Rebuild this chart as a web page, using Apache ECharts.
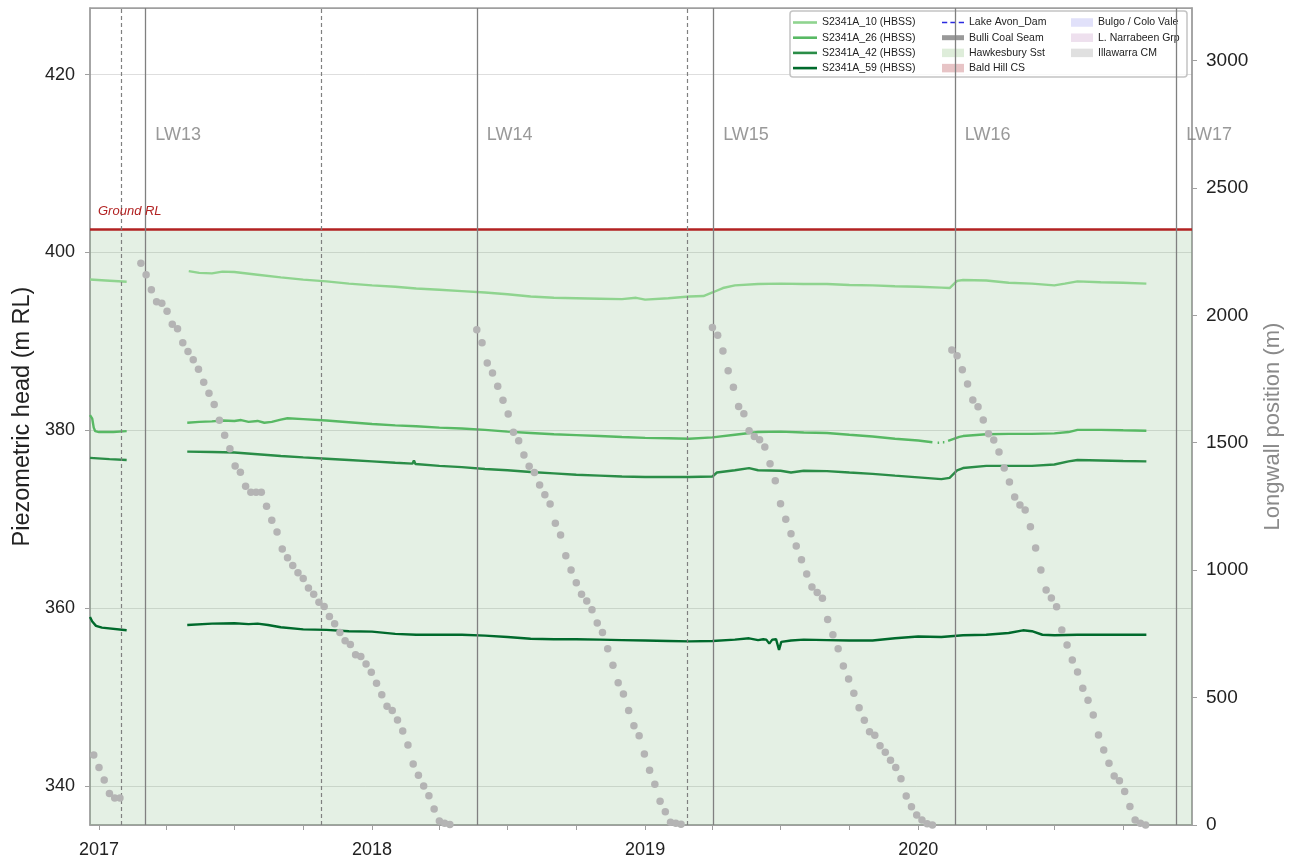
<!DOCTYPE html>
<html>
<head>
<meta charset="utf-8">
<title>S2341A piezometric head and longwall position</title>
<script src="https://cdn.jsdelivr.net/npm/echarts@6/dist/echarts.min.js"></script>
<style>
  html, body { margin: 0; padding: 0; background: #ffffff; }
  #chart { width: 1299px; height: 861px; }
</style>
</head>
<body>
<div id="chart"></div>
<script>
// ---- Axis extents and reference levels ----
const X_MIN = '2016-12-20';
const X_MAX = '2021-01-01';
const HEAD_MIN = 335.6;
const HEAD_MAX = 427.5;
const POS_MAX = 3206;
const GROUND_RL = 402.6;
const LW_LABEL_LEVEL = 413.25;

// Longwall start markers (solid) and other events (dashed)
const LW_NAMES = ['LW13', 'LW14', 'LW15', 'LW16', 'LW17'];
const LW_START_DATES = ['2017-03-04', '2018-05-21', '2019-04-02', '2020-02-19', '2020-12-11'];
const EVENT_DATES = ['2017-01-31', '2017-10-25', '2019-02-26'];

// ---- Piezometer heads (m RL); null marks a logger gap ----
const S2341A_10 = [
  ['2016-12-20', 396.96], ['2017-01-10', 396.85], ['2017-02-07', 396.7],
  ['2017-03-15', null],
  ['2017-05-01', 397.9], ['2017-05-15', 397.7], ['2017-06-01', 397.65], ['2017-06-15', 397.85],
  ['2017-07-01', 397.8], ['2017-08-01', 397.5], ['2017-09-01', 397.2], ['2017-10-01', 396.95],
  ['2017-11-01', 396.75], ['2017-12-01', 396.5], ['2018-01-01', 396.3], ['2018-02-01', 396.15],
  ['2018-03-01', 395.95], ['2018-04-01', 395.8], ['2018-05-01', 395.65], ['2018-06-01', 395.5],
  ['2018-07-01', 395.3], ['2018-08-01', 395.05], ['2018-09-01', 394.9], ['2018-10-01', 394.85],
  ['2018-11-01', 394.8], ['2018-12-01', 394.75], ['2018-12-20', 394.9], ['2019-01-01', 394.7],
  ['2019-02-01', 394.85], ['2019-03-01', 395.05], ['2019-03-20', 395.1], ['2019-04-01', 395.5],
  ['2019-04-15', 396.0], ['2019-05-01', 396.3], ['2019-06-01', 396.45], ['2019-07-01', 396.5],
  ['2019-08-01', 396.45], ['2019-09-01', 396.45], ['2019-10-01', 396.35], ['2019-11-01', 396.3],
  ['2019-12-01', 396.2], ['2020-01-01', 396.15], ['2020-02-01', 396.05], ['2020-02-12', 396.0],
  ['2020-02-22', 396.8], ['2020-03-01', 396.9], ['2020-04-01', 396.85], ['2020-05-01', 396.6],
  ['2020-06-01', 396.5], ['2020-07-01', 396.3], ['2020-07-15', 396.5], ['2020-08-01', 396.75],
  ['2020-09-01', 396.65], ['2020-10-01', 396.6], ['2020-11-01', 396.5]
];

const S2341A_26 = [
  ['2016-12-20', 381.7], ['2016-12-23', 381.3], ['2016-12-25', 380.3], ['2016-12-27', 379.9],
  ['2016-12-29', 380.0], ['2017-01-01', 379.8], ['2017-01-20', 379.8], ['2017-02-07', 379.9],
  ['2017-03-15', null],
  ['2017-04-29', 380.85], ['2017-05-15', 380.95], ['2017-06-01', 381.0], ['2017-06-15', 381.1],
  ['2017-07-01', 381.05], ['2017-07-10', 381.15], ['2017-07-20', 380.95], ['2017-08-01', 381.05],
  ['2017-08-10', 380.85], ['2017-08-20', 380.95], ['2017-09-01', 381.2], ['2017-09-10', 381.35],
  ['2017-10-01', 381.25], ['2017-11-01', 381.1], ['2017-12-01', 380.9], ['2018-01-01', 380.7],
  ['2018-02-01', 380.55], ['2018-03-01', 380.45], ['2018-04-01', 380.3], ['2018-05-01', 380.2],
  ['2018-06-01', 380.05], ['2018-07-01', 379.85], ['2018-08-01', 379.7], ['2018-09-01', 379.55],
  ['2018-10-01', 379.45], ['2018-11-01', 379.35], ['2018-12-01', 379.25], ['2019-01-01', 379.15],
  ['2019-02-01', 379.1], ['2019-03-01', 379.05], ['2019-04-01', 379.2], ['2019-05-01', 379.5],
  ['2019-06-01', 379.8], ['2019-07-01', 379.85], ['2019-08-01', 379.75], ['2019-09-01', 379.7],
  ['2019-10-01', 379.5], ['2019-11-01', 379.3], ['2019-12-01', 379.05], ['2020-01-01', 378.85],
  ['2020-01-20', 378.65],
  ['2020-01-24', null], ['2020-01-27', 378.6], ['2020-01-29', 378.6],
  ['2020-01-31', null], ['2020-02-03', 378.65], ['2020-02-05', 378.65],
  ['2020-02-07', null],
  ['2020-02-10', 378.8], ['2020-02-25', 379.25], ['2020-03-01', 379.35], ['2020-04-01', 379.55],
  ['2020-05-01', 379.6], ['2020-06-01', 379.6], ['2020-07-01', 379.65], ['2020-07-20', 379.8],
  ['2020-08-01', 380.05], ['2020-09-01', 380.05], ['2020-10-01', 380.0], ['2020-11-01', 379.95]
];

const S2341A_42 = [
  ['2016-12-20', 376.9], ['2017-01-15', 376.75], ['2017-02-07', 376.65],
  ['2017-03-15', null],
  ['2017-04-29', 377.6], ['2017-06-01', 377.55], ['2017-07-01', 377.5], ['2017-08-01', 377.3],
  ['2017-09-01', 377.1], ['2017-10-01', 376.95], ['2017-11-01', 376.8], ['2017-12-01', 376.65],
  ['2018-01-01', 376.5], ['2018-02-01', 376.35], ['2018-02-24', 376.25], ['2018-02-26', 376.6],
  ['2018-02-28', 376.2], ['2018-04-01', 376.0], ['2018-05-01', 375.85], ['2018-06-01', 375.65],
  ['2018-07-01', 375.5], ['2018-08-01', 375.3], ['2018-09-01', 375.15], ['2018-10-01', 375.0],
  ['2018-11-01', 374.9], ['2018-12-01', 374.8], ['2019-01-01', 374.75], ['2019-02-01', 374.75],
  ['2019-03-01', 374.75], ['2019-04-01', 374.8], ['2019-04-07', 375.25], ['2019-05-01', 375.5],
  ['2019-05-20', 375.75], ['2019-06-01', 375.5], ['2019-07-01', 375.45], ['2019-07-15', 375.25],
  ['2019-08-01', 375.45], ['2019-09-01', 375.4], ['2019-10-01', 375.25], ['2019-11-01', 375.1],
  ['2019-12-01', 374.9], ['2020-01-01', 374.7], ['2020-02-01', 374.5], ['2020-02-12', 374.65],
  ['2020-02-22', 375.5], ['2020-03-01', 375.75], ['2020-04-01', 376.0], ['2020-05-01', 376.0],
  ['2020-06-01', 376.0], ['2020-07-01', 376.15], ['2020-07-20', 376.5], ['2020-08-01', 376.65],
  ['2020-09-01', 376.6], ['2020-10-01', 376.55], ['2020-11-01', 376.5]
];

const S2341A_59 = [
  ['2016-12-20', 359.0], ['2016-12-23', 358.5], ['2016-12-28', 358.0], ['2017-01-05', 357.8],
  ['2017-02-07', 357.5],
  ['2017-03-15', null],
  ['2017-04-29', 358.1], ['2017-06-01', 358.25], ['2017-07-01', 358.3], ['2017-07-20', 358.2],
  ['2017-08-01', 358.25], ['2017-08-15', 358.1], ['2017-09-01', 357.85], ['2017-10-01', 357.6],
  ['2017-11-01', 357.55], ['2017-12-01', 357.4], ['2018-01-01', 357.35], ['2018-02-01', 357.1],
  ['2018-03-01', 357.0], ['2018-04-01', 357.0], ['2018-05-01', 357.0], ['2018-06-01', 356.9],
  ['2018-07-01', 356.75], ['2018-08-01', 356.55], ['2018-09-01', 356.5], ['2018-10-01', 356.5],
  ['2018-11-01', 356.45], ['2018-12-01', 356.4], ['2019-01-01', 356.35], ['2019-02-01', 356.3],
  ['2019-03-01', 356.25], ['2019-04-01', 356.3], ['2019-05-01', 356.45], ['2019-05-20', 356.6],
  ['2019-06-01', 356.4], ['2019-06-08', 356.5], ['2019-06-12', 356.45], ['2019-06-16', 356.0],
  ['2019-06-20', 356.45], ['2019-06-25', 356.5], ['2019-06-29', 355.3], ['2019-07-02', 356.2],
  ['2019-07-15', 356.35], ['2019-08-01', 356.45], ['2019-09-01', 356.4], ['2019-10-01', 356.35],
  ['2019-11-01', 356.35], ['2019-12-01', 356.6], ['2020-01-01', 356.8], ['2020-02-01', 356.75],
  ['2020-03-01', 356.95], ['2020-04-01', 357.0], ['2020-05-01', 357.2], ['2020-05-20', 357.5],
  ['2020-06-01', 357.4], ['2020-06-15', 357.0], ['2020-07-01', 356.95], ['2020-08-01', 357.0],
  ['2020-09-01', 357.0], ['2020-10-01', 357.0], ['2020-11-01', 357.0]
];

// ---- Weekly longwall face positions (m), first survey date of each panel ----
const LW12_START = '2016-12-18';
const LW12_POS = [318, 275, 226, 177, 124, 106, 106];
const LW13_START = '2017-02-26';
const LW13_POS = [2204, 2159, 2100, 2053, 2047, 2016, 1965, 1947, 1892, 1858,
  1826, 1788, 1737, 1694, 1650, 1588, 1529, 1476, 1409, 1384,
  1329, 1306, 1306, 1306, 1251, 1196, 1150, 1083, 1049, 1018,
  990, 967, 930, 905, 874, 857, 818, 790, 755, 723,
  708, 668, 661, 632, 599, 556, 511, 466, 449, 412,
  369, 314, 239, 195, 153, 115, 63, 16, 7, 2];
const LW14_START = '2018-05-21';
const LW14_POS = [1943, 1892, 1813, 1774, 1722, 1667, 1613, 1541, 1508, 1452,
  1408, 1383, 1334, 1296, 1260, 1184, 1138, 1057, 1001, 951,
  905, 879, 845, 793, 755, 692, 627, 558, 514, 449,
  389, 350, 279, 215, 160, 93, 52, 11, 7, 3];
const LW15_START = '2019-04-01';
const LW15_POS = [1952, 1922, 1860, 1783, 1718, 1642, 1614, 1547, 1525, 1512,
  1483, 1418, 1351, 1261, 1200, 1143, 1095, 1041, 985, 934,
  912, 890, 806, 747, 692, 624, 573, 517, 460, 411,
  366, 352, 311, 285, 254, 226, 181, 114, 72, 39,
  20, 5, 0];
const LW16_START = '2020-02-15';
const LW16_POS = [1864, 1841, 1786, 1731, 1668, 1641, 1589, 1535, 1511, 1464,
  1401, 1346, 1287, 1256, 1236, 1170, 1087, 1001, 922, 891,
  856, 765, 706, 647, 600, 537, 490, 432, 353, 294,
  242, 192, 174, 131, 73, 20, 7, 0];

// ---- Colours ----
const C10 = '#8fd48f';
const C26 = '#58b964';
const C42 = '#2a8d47';
const C59 = '#006a2c';
const DOT = '#b4b4b4';
const FIRE = '#b22222';
const MARK = '#808080';

function ts(s) {
  const p = s.split('-').map(Number);
  return new Date(p[0], p[1] - 1, p[2]).getTime();
}
// Survey points are weekly from the panel's first survey
function weekly(start, values) {
  const p = start.split('-').map(Number);
  return values.map((v, i) => [new Date(p[0], p[1] - 1, p[2] + 7 * i).getTime(), v]);
}

const dots = [].concat(
  weekly(LW12_START, LW12_POS),
  weekly(LW13_START, LW13_POS),
  weekly(LW14_START, LW14_POS),
  weekly(LW15_START, LW15_POS),
  weekly(LW16_START, LW16_POS)
);

const FONT = 'Liberation Sans, Arial, sans-serif';

function headLine(name, data, color) {
  return {
    name, type: 'line', data, yAxisIndex: 0,
    showSymbol: false, connectNulls: false, color,
    lineStyle: { color, width: 2.4 }, z: 4
  };
}
function legendOnly(name, color, extra) {
  return Object.assign({ name, type: 'line', data: [], color, showSymbol: false }, extra || {});
}

const LINE_ICON = 'path://M0,0h24v2.6h-24z';
const DASH_ICON = 'path://M0,0h5v1.6h-5zM8,0h5v1.6h-5zM16,0h5v1.6h-5z';
const THICK_ICON = 'path://M0,0h22v5h-22z';
const PATCH_ICON = 'path://M0,0h22v8.5h-22z';

function li(name, icon, color) {
  return { name, icon, itemStyle: { color, borderWidth: 0 } };
}

const legendBase = {
  orient: 'vertical', top: 17, itemHeight: 12, itemGap: 4.2, padding: 0,
  selectedMode: false,
  textStyle: { fontSize: 10.5, color: '#222', fontFamily: FONT }
};

const chart = echarts.init(document.getElementById('chart'), null, { renderer: 'canvas' });

const option = {
  animation: false,
  backgroundColor: '#ffffff',
  textStyle: { fontFamily: FONT },
  grid: {
    left: 90, right: 107, top: 8, bottom: 36,
    show: true, borderColor: '#a0a0a0', borderWidth: 1.5, backgroundColor: 'transparent'
  },
  graphic: [{
    type: 'rect', z: 3,
    shape: { x: 790, y: 11, width: 397, height: 66, r: 3 },
    style: { fill: 'rgba(255,255,255,0.8)', stroke: '#c4c4c4', lineWidth: 1.5 }
  }],
  legend: [
    Object.assign({}, legendBase, {
      left: 793, itemWidth: 24,
      data: [li('S2341A_10 (HBSS)', LINE_ICON, C10), li('S2341A_26 (HBSS)', LINE_ICON, C26),
             li('S2341A_42 (HBSS)', LINE_ICON, C42), li('S2341A_59 (HBSS)', LINE_ICON, C59)]
    }),
    Object.assign({}, legendBase, {
      left: 942, itemWidth: 22,
      data: [li('Lake Avon_Dam', DASH_ICON, '#2b2be0'), li('Bulli Coal Seam', THICK_ICON, '#999999'),
             li('Hawkesbury Sst', PATCH_ICON, '#deedda'), li('Bald Hill CS', PATCH_ICON, '#e7c4c6')]
    }),
    Object.assign({}, legendBase, {
      left: 1071, itemWidth: 22,
      data: [li('Bulgo / Colo Vale', PATCH_ICON, '#e1e1fa'), li('L. Narrabeen Grp', PATCH_ICON, '#eee0ee'),
             li('Illawarra CM', PATCH_ICON, '#e0e0e0')]
    })
  ],
  xAxis: {
    type: 'time', min: ts(X_MIN), max: ts(X_MAX),
    minInterval: 80 * 86400000, maxInterval: 100 * 86400000,
    axisLine: { show: true, lineStyle: { color: '#a0a0a0', width: 1.5 } },
    axisTick: { show: true, length: 5, lineStyle: { color: '#a0a0a0', width: 1 } },
    splitLine: { show: false },
    axisLabel: {
      color: '#222', fontSize: 18, margin: 16, fontFamily: FONT,
      showMinLabel: false, showMaxLabel: false,
      formatter: function (v) {
        const d = new Date(v);
        return (d.getMonth() === 0 && d.getDate() === 1) ? String(d.getFullYear()) : '';
      }
    }
  },
  yAxis: [
    {
      type: 'value', position: 'left', min: HEAD_MIN, max: HEAD_MAX,
      name: 'Piezometric head (m RL)', nameLocation: 'middle', nameGap: 55,
      nameTextStyle: { fontSize: 23.5, color: '#222', fontFamily: FONT },
      axisLine: { show: true, lineStyle: { color: '#a0a0a0', width: 1.5 } },
      axisTick: { show: true, length: 5, lineStyle: { color: '#a0a0a0' } },
      splitLine: { show: true, lineStyle: { color: 'rgba(0,0,0,0.13)', width: 1 } },
      axisLabel: {
        color: '#222', fontSize: 18, margin: 15, fontFamily: FONT,
        showMinLabel: false, showMaxLabel: false,
        formatter: v => (Math.abs(v % 20) < 1e-6 ? String(v) : '')
      }
    },
    {
      type: 'value', position: 'right', min: 0, max: POS_MAX, interval: 500,
      name: 'Longwall position (m)', nameLocation: 'middle', nameGap: 70,
      nameTextStyle: {
        fontSize: 22, color: '#8a8a8a', padding: [0, 20, 0, 0],
        fontFamily: 'Liberation Sans Narrow, Arial Narrow, sans-serif'
      },
      axisLine: { show: true, lineStyle: { color: '#a0a0a0', width: 1.5 } },
      axisTick: { show: true, length: 5, lineStyle: { color: '#a0a0a0' } },
      splitLine: { show: false },
      axisLabel: {
        color: '#222', fontSize: 19, margin: 14, fontFamily: FONT, showMaxLabel: false,
        formatter: v => String(v)
      }
    }
  ],
  series: [
    // Hawkesbury Sandstone band up to the ground surface
    legendOnly('Hawkesbury Sst', '#deedda', {
      z: 1,
      markArea: {
        silent: true,
        itemStyle: { color: 'rgba(120,180,120,0.2)' },
        data: [[{ yAxis: HEAD_MIN }, { yAxis: GROUND_RL }]]
      }
    }),
    legendOnly('Bald Hill CS', '#e7c4c6'),
    legendOnly('Bulgo / Colo Vale', '#e1e1fa'),
    legendOnly('L. Narrabeen Grp', '#eee0ee'),
    legendOnly('Illawarra CM', '#e0e0e0'),
    legendOnly('Lake Avon_Dam', '#2b2be0', { lineStyle: { type: 'dashed' } }),
    legendOnly('Bulli Coal Seam', '#999999', { lineStyle: { width: 4 } }),
    // Ground surface and longwall / event markers
    {
      name: 'markers', type: 'line', data: [], z: 3,
      markLine: {
        silent: true, symbol: ['none', 'none'], precision: 2,
        data: [
          {
            yAxis: GROUND_RL,
            lineStyle: { color: FIRE, width: 2.5, type: 'solid' },
            label: {
              show: true, position: 'insideStartTop', formatter: 'Ground RL',
              color: FIRE, fontStyle: 'italic', fontSize: 13, distance: [8, 11], fontFamily: FONT
            }
          }
        ].concat(
          LW_START_DATES.map(d => ({
            xAxis: ts(d), label: { show: false },
            lineStyle: { color: MARK, width: 1.3, type: 'solid' }
          })),
          EVENT_DATES.map(d => ({
            xAxis: ts(d), label: { show: false },
            lineStyle: { color: MARK, width: 1.2, type: [4, 3] }
          }))
        )
      }
    },
    headLine('S2341A_10 (HBSS)', S2341A_10, C10),
    headLine('S2341A_26 (HBSS)', S2341A_26, C26),
    headLine('S2341A_42 (HBSS)', S2341A_42, C42),
    headLine('S2341A_59 (HBSS)', S2341A_59, C59),
    {
      name: 'Longwall position', type: 'scatter', yAxisIndex: 1, data: dots,
      symbolSize: 7.5, itemStyle: { color: DOT, opacity: 1 }, z: 5, silent: true
    },
    {
      name: 'LW labels', type: 'scatter', yAxisIndex: 0, symbolSize: 0, silent: true, z: 6,
      data: LW_NAMES.map((n, i) => ({ name: n, value: [ts(LW_START_DATES[i]), LW_LABEL_LEVEL] })),
      label: {
        show: true, position: 'right', distance: 10, formatter: '{b}',
        color: MARK, fontSize: 18, fontFamily: FONT
      }
    }
  ]
};

chart.setOption(option);
</script>
</body>
</html>
